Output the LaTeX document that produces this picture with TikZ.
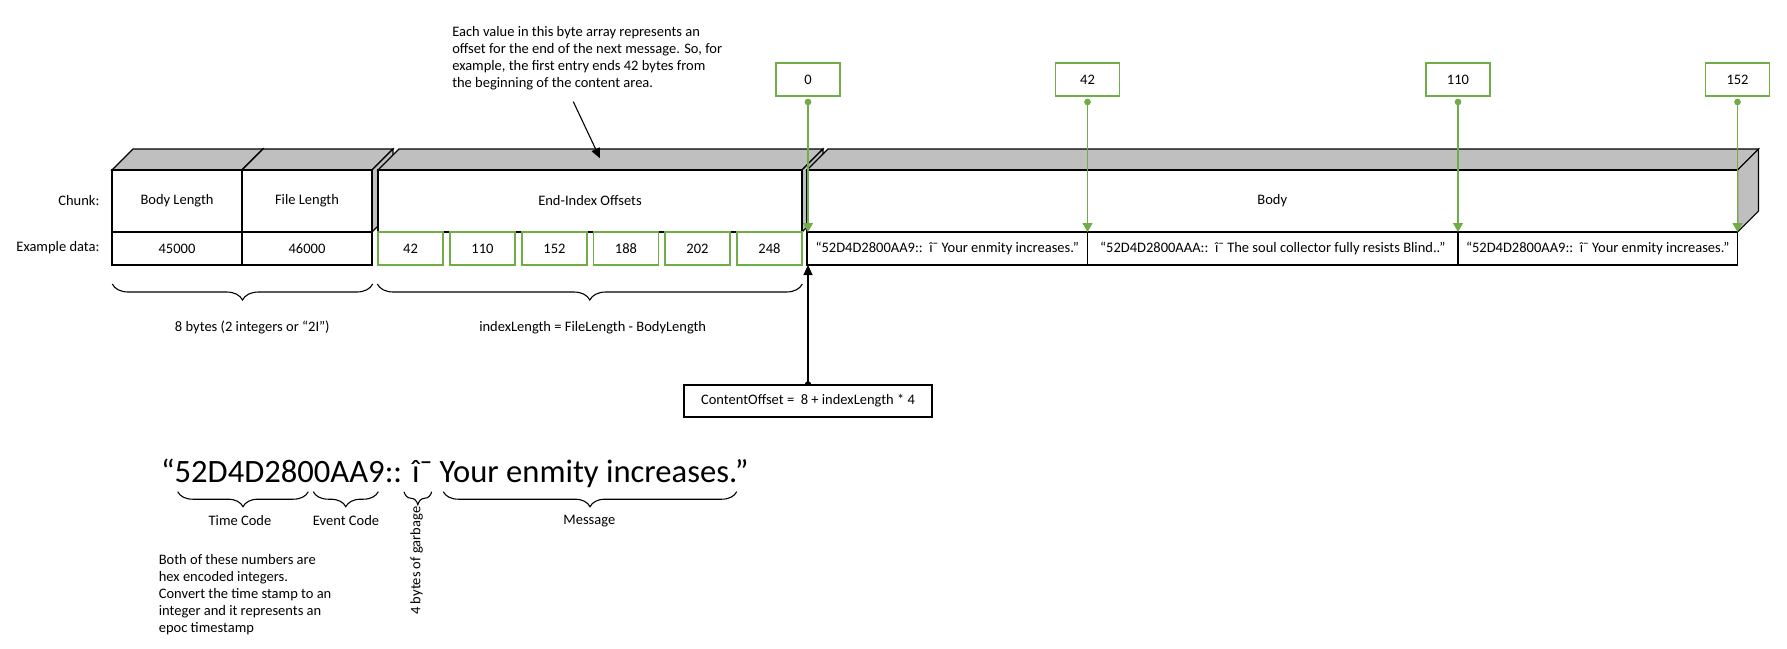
\documentclass[tikz,border=0pt]{standalone}
\usepackage{fontspec}
\setmainfont{Carlito}
\usetikzlibrary{arrows.meta,decorations.pathreplacing,backgrounds}
\definecolor{og}{HTML}{70AD47}
\definecolor{topgray}{HTML}{BFBFBF}
\newcommand\drawcube[2]{%
  \filldraw[fill=topgray] (#1,170) -- (#1+21,149) -- (#2+21,149) -- (#2,170) -- cycle;
  \filldraw[fill=topgray] (#2,170) -- (#2+21,149) -- (#2+21,211) -- (#2,232) -- cycle;
}
\begin{document}
\begin{tikzpicture}[x=1pt,y=-1pt,line width=1.1pt,
  txt/.style={font=\fontsize{14.5}{17}\selectfont,inner sep=0pt},
  front/.style={draw,fill=white,anchor=north west,inner sep=0pt,outer sep=0pt,minimum height=62pt,font=\fontsize{14.5}{17}\selectfont},
  bcell/.style={draw,fill=white,anchor=north west,inner sep=0pt,outer sep=0pt,minimum height=33pt,font=\fontsize{14.5}{17}\selectfont},
  gcell/.style={bcell,draw=og},
  valbox/.style={draw=og,fill=white,inner sep=0pt,outer sep=0pt,minimum width=64pt,minimum height=33pt,font=\fontsize{14.5}{17}\selectfont},
  garrow/.style={draw=og,{Circle[length=6.6pt]}-{Triangle[width=10pt,length=9pt]}},
  barrow/.style={draw=black,-{Triangle[width=9pt,length=10pt]}},
  brc/.style={decorate,decoration={brace,mirror,amplitude=#1}},
  brc/.default=16pt]
\useasboundingbox (0,0) rectangle (1787,648);

% cubes
\drawcube{112}{242}
\node[front,minimum width=130pt] (bl) at (112,170) {Body Length};
\drawcube{242}{372}
\node[front,minimum width=130pt] (fl) at (242,170) {File Length};
\drawcube{378}{802}
\node[front,minimum width=424pt] (eio) at (378,170) {End-Index Offsets};
\drawcube{807}{1737.5}
\node[front,minimum width=930.5pt] (body) at (807,170) {Body};

% labels
\node[txt,anchor=east] (lchunk) at (100,200.7) {Chunk:};
\node[txt,anchor=east] (lex) at (100,248) {Example data:};

% data row
\node[bcell,minimum width=130pt] (d1) at (112,232) {45000};
\node[bcell,minimum width=130pt] (d2) at (242,232) {46000};
\node[gcell,minimum width=65pt] (e1) at (378,232) {42};
\node[gcell,minimum width=65pt] (e2) at (450,232) {110};
\node[gcell,minimum width=65pt] (e3) at (522,232) {152};
\node[gcell,minimum width=65pt] (e4) at (593.5,232) {188};
\node[gcell,minimum width=65pt] (e5) at (665,232) {202};
\node[gcell,minimum width=65pt] (e6) at (737,232) {248};
\node[bcell,minimum width=280.5pt] (m1) at (807,232) {“52D4D2800AA9::\ \ î¯ Your enmity increases.”};
\node[bcell,minimum width=370.5pt] (m2) at (1087.5,232) {“52D4D2800AAA::\ \ î¯ The soul collector fully resists Blind..”};
\node[bcell,minimum width=279.5pt] (m3) at (1458,232) {“52D4D2800AA9::\ \ î¯ Your enmity increases.”};

% value boxes and arrows
\node[valbox] (v0) at (808,79.5) {0};
\node[valbox] (v1) at (1087.5,79.5) {42};
\node[valbox] (v2) at (1458,79.5) {110};
\node[valbox] (v3) at (1737.5,79.5) {152};
\coordinate (t0) at (808,232);
\coordinate (t1) at (1087.5,232);
\coordinate (t2) at (1458,232);
\coordinate (t3) at (1737.5,232);
\draw[garrow] ([yshift=-2.7pt]v0.south) -- (t0);
\draw[garrow] ([yshift=-2.7pt]v1.south) -- (t1);
\draw[garrow] ([yshift=-2.7pt]v2.south) -- (t2);
\draw[garrow] ([yshift=-2.7pt]v3.south) -- (t3);

% annotation
\node[txt,align=left,anchor=north west] (ann) at (451.7,26) {Each value in this byte array represents an\\offset for the end of the next message. So, for\\example, the first entry ends 42 bytes from\\the beginning of the content area.};
\coordinate (annp) at (573.3,101.7);
\coordinate (annt) at (600,158.3);
\draw[barrow] (annp) -- (annt);

% braces
\draw[brc] (112.3,284) -- (372.7,284);
\draw[brc] (377.3,284) -- (802.3,284);
\node[txt] (lbytes) at (252.3,327.5) {8 bytes (2 integers or “2I”)};
\node[txt] (lidx) at (592.7,327.5) {indexLength = FileLength - BodyLength};

% content offset
\node[draw,fill=white,inner sep=0pt,minimum width=248pt,minimum height=32pt,font=\fontsize{14.5}{17}\selectfont] (co) at (808,401) {ContentOffset =\ \ 8 + indexLength * 4};
\coordinate (cb) at (808,265);
\draw[barrow] (co.north) -- (cb);
\begin{scope}[on background layer]
\fill (co.north) circle (3.2pt);
\end{scope}

% big example
\node[inner sep=0pt,anchor=base west,font=\fontsize{32.6}{38}\selectfont] (big) at (160.5,482.7) {“52D4D2800AA9:: î¯ Your enmity increases.”};
\draw[brc=15pt] (177.7,491.7) -- (308.3,491.7);
\draw[brc=15pt] (313.3,491.7) -- (378.3,491.7);
\draw[brc=13pt] (404,491.7) -- (431.7,491.7);
\draw[brc=15pt] (443.3,491.7) -- (736.7,491.7);
\node[txt] (ltc) at (240,521) {Time Code};
\node[txt] (lec) at (346,521) {Event Code};
\node[txt] (lmsg) at (589.3,521) {Message};
\node[txt,rotate=90] (lgb) at (416.7,560.7) {4 bytes of garbage};
\node[txt,align=left,anchor=north west] (note) at (158.3,553.5) {Both of these numbers are\\hex encoded integers.\\Convert the time stamp to an\\integer and it represents an\\epoc timestamp};
\end{tikzpicture}
\end{document}
